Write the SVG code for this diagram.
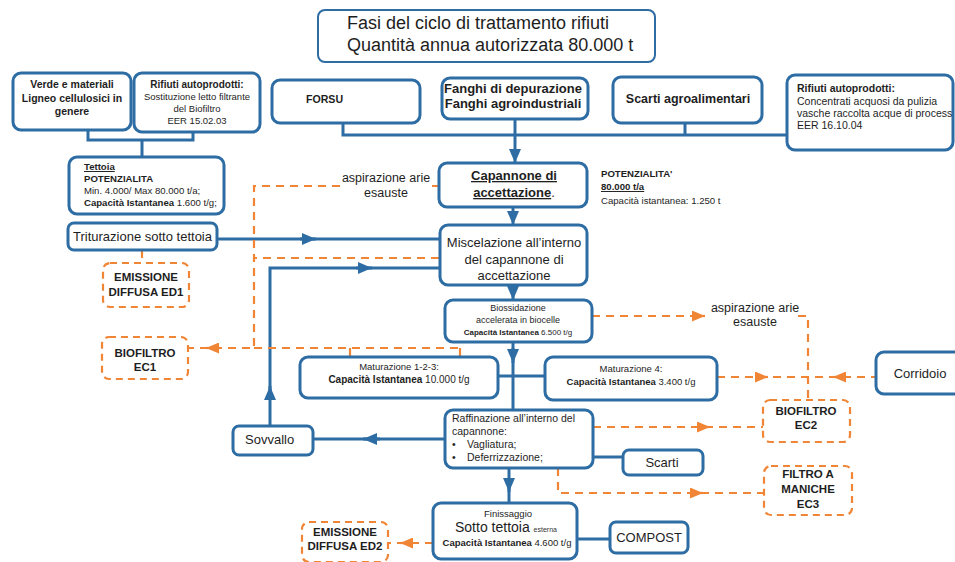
<svg xmlns="http://www.w3.org/2000/svg" width="955" height="562" viewBox="0 0 955 562">
<style>
text{font-family:"Liberation Sans",Arial,sans-serif;fill:#1e1e1e}
.b{font-weight:bold}
.u{text-decoration:underline}
.c{text-anchor:middle}
.box{fill:#fff;stroke:#2e6da4;stroke-width:3}
.dbox{fill:#fff;stroke:#ef8535;stroke-width:2.2;stroke-dasharray:7 5}
.ln{fill:none;stroke:#2e6da4;stroke-width:3}
.dl{fill:none;stroke:#ef8535;stroke-width:2.2;stroke-dasharray:8 6}
.ab{fill:none;stroke:#2e6da4;stroke-width:3;marker-end:url(#ab)}
.ao{fill:none;stroke:#ef8535;stroke-width:2.2;marker-end:url(#ao)}
</style>
<defs>
<marker id="ab" viewBox="0 0 14 12" refX="14" refY="6" markerWidth="14" markerHeight="12" markerUnits="userSpaceOnUse" orient="auto"><path d="M0,0 L14,6 L0,12 z" fill="#2e6da4"/></marker>
<marker id="ao" viewBox="0 0 13 11" refX="13" refY="5.5" markerWidth="13" markerHeight="11" markerUnits="userSpaceOnUse" orient="auto"><path d="M0,0 L13,5.5 L0,11 z" fill="#ef8535"/></marker>
</defs>
<rect width="955" height="562" fill="#fff"/>

<g id="connectors">
<path class="ln" d="M88,130 V140 H193 V132 M142,140 V157"/>
<path class="ln" d="M343,123 V135 H787 M685,123 V135"/>
<path class="ab" d="M515,119 V163"/>
<path class="ab" d="M513,207 V225"/>
<path class="ln" d="M217,239 H440"/>
<path class="ab" d="M300,239 H316"/>
<path class="ln" d="M270,426 V268 H440"/>
<path class="ab" d="M270,400 V386"/>
<path class="ab" d="M356,268 H372"/>
<path class="ab" d="M513,285 V300"/>
<path class="ln" d="M513,342 V410"/>
<path class="ab" d="M513,348 V363"/>
<path class="ln" d="M498,376 H545"/>
<path class="ln" d="M445,439 H313"/>
<path class="ab" d="M380,439 H363"/>
<path class="ln" d="M593,457 H623"/>
<path class="ln" d="M509,468 V503"/>
<path class="ab" d="M509,478 V492"/>
<path class="ln" d="M577,539 H610"/>
<path class="dl" d="M439,186 H432 M340,186 H254 V348 H188"/>
<path class="ao" d="M220,348 H206"/>
<path class="dl" d="M439,258 H254"/>
<path class="dl" d="M254,348 H460 M350,348 V357 M460,348 V357"/>
<path class="dl" d="M142,250 V263"/>
<path class="dl" d="M592,316 H700 M798,316 H808 V400"/>
<path class="ao" d="M692,316 H705"/>
<path class="dl" d="M717,377 H876"/>
<path class="ao" d="M755,377 H768"/>
<path class="ao" d="M846,377 H833"/>
<path class="dl" d="M593,427 H763"/>
<path class="ao" d="M697,427 H710"/>
<path class="dl" d="M558,468 V493 H764"/>
<path class="ao" d="M690,493 H703"/>
<path class="dl" d="M433,543 H388"/>
<path class="ao" d="M413,543 H400"/>
</g>

<g id="title">
<rect x="318" y="10" width="337" height="52" rx="7" fill="#fff" stroke="#2e6da4" stroke-width="2"/>
<text x="347" y="29" font-size="18">Fasi del ciclo di trattamento rifiuti</text>
<text x="347" y="51" font-size="18">Quantità annua autorizzata 80.000 t</text>
</g>

<g id="verde">
<rect class="box" x="13" y="73" width="118" height="57" rx="8"/>
<text class="b c" x="72" y="88" font-size="10.5">Verde e materiali</text>
<text class="b c" x="72" y="102" font-size="10.5">Ligneo cellulosici in</text>
<text class="b c" x="72" y="115" font-size="10.5">genere</text>
</g>

<g id="rifiuti1">
<rect class="box" x="134" y="73" width="126" height="59" rx="8"/>
<text class="b c" x="197" y="88" font-size="10">Rifiuti autoprodotti:</text>
<text class="c" x="197" y="100" font-size="9.5" fill="#333">Sostituzione letto filtrante</text>
<text class="c" x="197" y="112" font-size="9.5" fill="#333">del Biofiltro</text>
<text class="c" x="197" y="124" font-size="9.5" fill="#333">EER 15.02.03</text>
</g>

<g id="tettoia">
<rect class="box" x="69" y="157" width="155" height="57" rx="8"/>
<text class="b u" x="84" y="170" font-size="9.6">Tettoia</text>
<text class="b" x="84" y="182" font-size="9.6">POTENZIALITA</text>
<text x="84" y="194" font-size="9.6" fill="#333">Min. 4.000/ Max 80.000 t/a;</text>
<text x="84" y="206" font-size="9.6"><tspan class="b">Capacità Istantanea</tspan> 1.600 t/g;</text>
</g>

<g id="forsu">
<rect class="box" x="272" y="80" width="148" height="43" rx="8"/>
<text class="b" x="306" y="103" font-size="10.6">FORSU</text>
</g>

<g id="fanghi">
<rect class="box" x="442" y="78" width="146" height="41" rx="8" stroke-width="4"/>
<text class="b c" x="513" y="93" font-size="13">Fanghi di depurazione</text>
<text class="b c" x="513" y="108" font-size="13">Fanghi agroindustriali</text>
</g>

<g id="scarti-agro">
<rect class="box" x="613" y="77" width="149" height="46" rx="8"/>
<text class="b c" x="688" y="103" font-size="12.5">Scarti agroalimentari</text>
</g>

<g id="rifiuti2">
<rect class="box" x="787" y="75" width="166" height="75" rx="8"/>
<text class="b" x="797" y="92" font-size="10.5">Rifiuti autoprodotti:</text>
<text x="797" y="105" font-size="10.5" fill="#333">Concentrati acquosi da pulizia</text>
<text x="797" y="117" font-size="10.5" fill="#333">vasche raccolta acque di process</text>
<text x="797" y="129" font-size="10.5" fill="#333">EER 16.10.04</text>
</g>

<g id="capannone">
<rect class="box" x="439" y="163" width="148" height="44" rx="8"/>
<text class="b u c" x="514" y="180" font-size="13">Capannone di</text>
<text class="c" x="514" y="197" font-size="13"><tspan class="b u">accettazione</tspan>.</text>
</g>

<g id="potenzialita">
<text class="b" x="601" y="177" font-size="9.6">POTENZIALITA'</text>
<text class="b u" x="601" y="190" font-size="9.6">80.000 t/a</text>
<text x="601" y="204" font-size="9.6" fill="#333">Capacità istantanea: 1.250 t</text>
</g>

<g id="aspirazione1">
<text class="c" x="386" y="182" font-size="12.5" fill="#333">aspirazione arie</text>
<text class="c" x="386" y="197" font-size="12.5" fill="#333">esauste</text>
</g>

<g id="triturazione">
<rect class="box" x="68" y="223" width="149" height="27" rx="6"/>
<text x="73" y="241" font-size="13">Triturazione sotto tettoia</text>
</g>

<g id="miscelazione">
<rect class="box" x="440" y="225" width="147" height="60" rx="8"/>
<text class="c" x="514" y="247" font-size="13">Miscelazione all’interno</text>
<text class="c" x="514" y="264" font-size="13">del capannone di</text>
<text class="c" x="514" y="280" font-size="13">accettazione</text>
</g>

<g id="ed1">
<rect class="dbox" x="103" y="263" width="86" height="44" rx="7"/>
<text class="b c" x="146" y="281" font-size="11.5">EMISSIONE</text>
<text class="b c" x="146" y="296" font-size="11.5">DIFFUSA ED1</text>
</g>

<g id="ec1">
<rect class="dbox" x="102" y="337" width="86" height="42" rx="7"/>
<text class="b c" x="145" y="357" font-size="11.5">BIOFILTRO</text>
<text class="b c" x="145" y="371" font-size="11.5">EC1</text>
</g>

<g id="biossidazione">
<rect class="box" x="445" y="300" width="147" height="42" rx="8"/>
<text class="c" x="518" y="311" font-size="9" fill="#333">Biossidazione</text>
<text class="c" x="518" y="323" font-size="9" fill="#333">accelerata in biocelle</text>
<text class="c" x="518" y="335" font-size="8"><tspan class="b">Capacità Istantanea</tspan> 6.500 t/g</text>
</g>

<g id="aspirazione2">
<text class="c" x="755" y="312" font-size="12.5" fill="#333">aspirazione arie</text>
<text class="c" x="755" y="326" font-size="12.5" fill="#333">esauste</text>
</g>

<g id="maturazione123">
<rect class="box" x="300" y="357" width="198" height="41" rx="8"/>
<text class="c" x="399" y="370" font-size="9.5" fill="#333">Maturazione 1-2-3:</text>
<text class="c" x="399" y="383" font-size="10"><tspan class="b">Capacità Istantanea</tspan> 10.000 t/g</text>
</g>

<g id="maturazione4">
<rect class="box" x="545" y="357" width="172" height="43" rx="8"/>
<text class="c" x="631" y="372" font-size="9.5" fill="#333">Maturazione 4:</text>
<text class="c" x="631" y="385" font-size="9.5"><tspan class="b">Capacità Istantanea</tspan> 3.400 t/g</text>
</g>

<g id="corridoio">
<rect class="box" x="876" y="352" width="90" height="42" rx="8"/>
<text class="c" x="920" y="378" font-size="13">Corridoio</text>
</g>

<g id="ec2">
<rect class="dbox" x="763" y="400" width="87" height="42" rx="7"/>
<text class="b c" x="806" y="415" font-size="11.5">BIOFILTRO</text>
<text class="b c" x="806" y="429" font-size="11.5">EC2</text>
</g>

<g id="raffinazione">
<rect class="box" x="445" y="410" width="148" height="58" rx="8"/>
<text x="452" y="422" font-size="10.5">Raffinazione all’interno del</text>
<text x="452" y="435" font-size="10.5">capannone:</text>
<text x="452" y="448" font-size="10.5">•</text>
<text x="467" y="448" font-size="10.5">Vagliatura;</text>
<text x="452" y="461" font-size="10.5">•</text>
<text x="467" y="461" font-size="10.5">Deferrizzazione;</text>
</g>

<g id="sovvallo">
<rect class="box" x="233" y="426" width="80" height="29" rx="6"/>
<text x="245" y="444" font-size="13">Sovvallo</text>
</g>

<g id="scarti">
<rect class="box" x="623" y="450" width="80" height="25" rx="6"/>
<text class="c" x="662" y="467" font-size="13">Scarti</text>
</g>

<g id="ec3">
<rect class="dbox" x="764" y="466" width="88" height="49" rx="7"/>
<text class="b c" x="808" y="478" font-size="11.5">FILTRO A</text>
<text class="b c" x="808" y="493" font-size="11.5">MANICHE</text>
<text class="b c" x="808" y="508" font-size="11.5">EC3</text>
</g>

<g id="finissaggio">
<rect class="box" x="433" y="503" width="144" height="56" rx="8"/>
<text class="c" x="508" y="517" font-size="9.5" fill="#333">Finissaggio</text>
<text x="455" y="532" font-size="14">Sotto tettoia <tspan font-size="7" fill="#333">esterna</tspan></text>
<text class="c" x="507" y="546" font-size="9.5"><tspan class="b">Capacità Istantanea</tspan> 4.600  t/g</text>
</g>

<g id="compost">
<rect class="box" x="610" y="522" width="78" height="31" rx="6"/>
<text class="c" x="649" y="542" font-size="13">COMPOST</text>
</g>

<g id="ed2">
<rect class="dbox" x="302" y="522" width="86" height="40" rx="7"/>
<text class="b c" x="345" y="536" font-size="11.5">EMISSIONE</text>
<text class="b c" x="345" y="550" font-size="11.5">DIFFUSA ED2</text>
</g>
</svg>
